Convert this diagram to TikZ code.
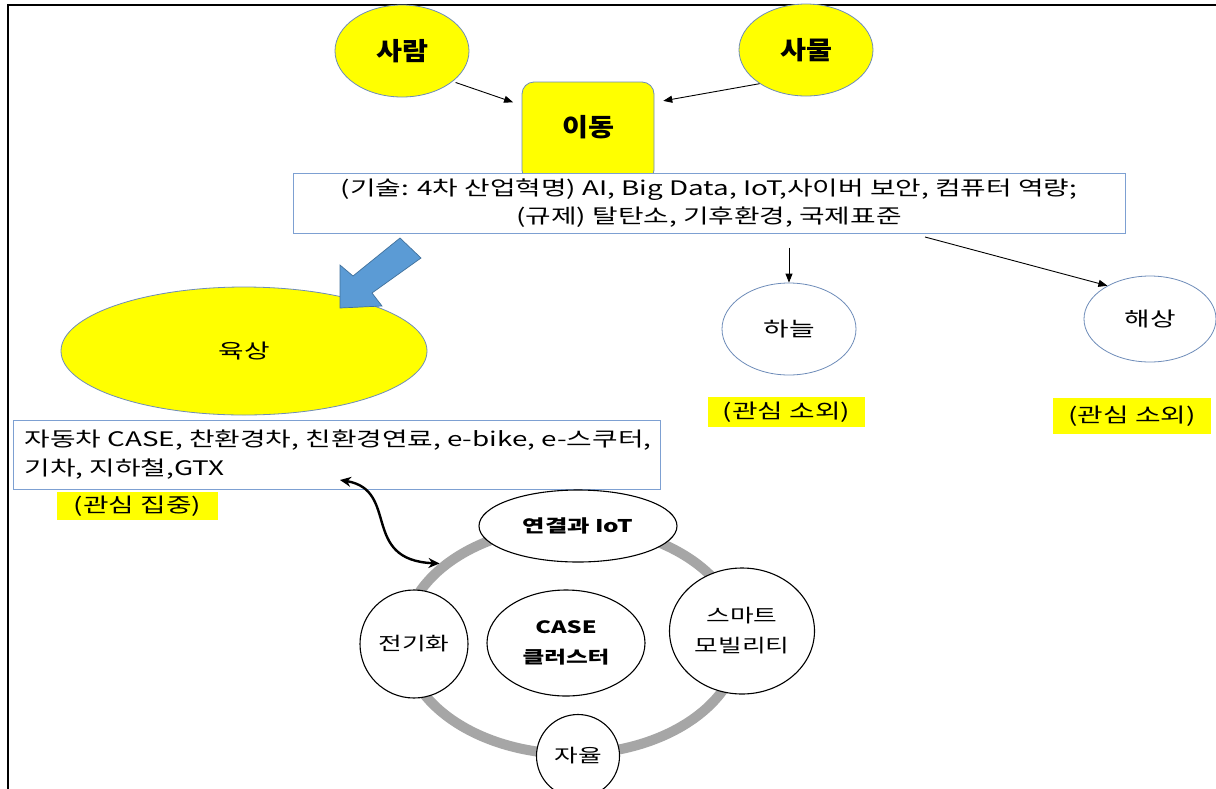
\documentclass[tikz,border=0pt]{standalone}
\usepackage{fontspec}
\setmainfont{Noto Sans CJK KR}[FakeStretch=1.39]
\newfontfamily\narrowfont{Noto Sans CJK KR}[FakeStretch=1.13]
\usetikzlibrary{arrows.meta,shapes.geometric,calc}
\definecolor{yel}{RGB}{255,255,0}
\definecolor{edgeblue}{RGB}{110,140,185}
\definecolor{boxblue}{RGB}{125,160,210}
\definecolor{arrowblue}{RGB}{91,155,213}
\definecolor{arrowedge}{RGB}{65,113,156}
\definecolor{ringgray}{RGB}{166,166,166}
\tikzset{
  yelell/.style={ellipse, draw=edgeblue, fill=yel, line width=0.8pt, inner sep=0pt},
  blueell/.style={ellipse, draw=edgeblue, line width=0.8pt, inner sep=0pt},
  hilite/.style={fill=yel, inner sep=0pt},
  infobox/.style={draw=boxblue, fill=white, line width=1pt, inner sep=0pt},
  ringnode/.style={draw=black, fill=white, line width=1.1pt, inner sep=0pt},
  thinarrow/.style={draw=black, line width=0.9pt, -{Triangle[length=9pt,width=7pt]}},
  dblarrow/.style={draw=black, line width=2.4pt, {Stealth[length=11pt,width=10pt]}-{Stealth[length=11pt,width=10pt]}},
  bigfont/.style={font=\narrowfont\bfseries\fontsize{25}{29}\selectfont},
  midfont/.style={font=\fontsize{20}{28.5}\selectfont},
  smallfont/.style={font=\fontsize{20}{26}\selectfont},
  ringfont/.style={font=\fontsize{18.5}{30}\selectfont},
}
\begin{document}
\begin{tikzpicture}[x=1pt,y=-1pt]
\useasboundingbox (0,0) rectangle (1216,788);
\fill[white] (0,0) rectangle (1216,788);
\draw[line width=2pt] (8,790) -- (8,5) -- (1218,5);

% top ellipses and move box
\node[yelell, bigfont, minimum width=134pt, minimum height=92pt] (person) at (402,51) {사람};
\node[yelell, bigfont, minimum width=134pt, minimum height=92pt] (thing) at (806,50) {사물};
\node[rectangle, rounded corners=12pt, draw=edgeblue, fill=yel, line width=0.8pt,
      minimum width=132pt, minimum height=100pt] (move) at (588,132) {};
\node[bigfont] (movetxt) at (588,127) {이동};

\draw[thinarrow, shorten <=3pt, shorten >=9pt] (person.-31) -- (move.158);
\draw[thinarrow, shorten >=9pt] (thing.216) -- (move.24);

% technology box
\node[infobox, midfont, align=center, minimum width=832pt, minimum height=60pt] (tech) at (709,203)
  {(기술: 4차 산업혁명) AI, Big Data, IoT,사이버 보안, 컴퓨터 역량;\\(규제) 탈탄소, 기후환경, 국제표준};

% land
\node[yelell, midfont, minimum width=366pt, minimum height=128pt] (land) at (244,351) {육상};
\draw[draw=arrowedge, fill=arrowblue, line width=0.7pt, line join=miter]
  (400,238) -- (421,258) -- (372,293) -- (382,306) -- (340,308) -- (340,265) -- (353,276) -- cycle;

% sky and sea
\node[blueell, midfont, minimum width=134pt, minimum height=92pt] (sky) at (789,329) {하늘};
\node[blueell, midfont, minimum width=132pt, minimum height=86pt] (sea) at (1150,319) {해상};
\draw[thinarrow, shorten <=14pt] (sky.north |- tech.south) -- (sky.north);
\coordinate (seastart) at (925,237);
\draw[thinarrow] (seastart) -- (sea.142);

\node[hilite, smallfont, minimum width=157pt, minimum height=30pt] (skynote) at (786.5,412) {(관심 소외)};
\node[hilite, smallfont, minimum width=158pt, minimum height=36pt] (seanote) at (1132,416) {(관심 소외)};

% land box
\node[infobox, minimum width=647pt, minimum height=69pt] (landbox) at (336.5,454.5) {};
\node[midfont, align=left, anchor=west, inner sep=0pt] (landtxt) at ([xshift=12pt]landbox.west)
  {자동차 CASE, 찬환경차, 친환경연료, e-bike, e-스쿠터,\\기차, 지하철,GTX};
\node[hilite, smallfont, minimum width=161pt, minimum height=28pt] (landnote) at (137.5,506) {(관심 집중)};

% CASE ring
\node[ellipse, draw=ringgray, line width=10pt, minimum width=336pt, minimum height=228pt] (ring) at (572,640) {};
\node[ringnode, ellipse, font=\bfseries\fontsize{17.5}{22}\selectfont, minimum width=198pt, minimum height=72pt] (conn) at (578,526) {연결과 IoT};
\node[ringnode, circle, ringfont, minimum size=108pt] (elec) at (414,644) {전기화};
\node[ringnode, ellipse, ringfont, align=center, minimum width=145pt, minimum height=126pt] (smart) at (742,631) {스마트\\모빌리티};
\node[ringnode, circle, ringfont, minimum size=83pt] (auto) at (578,756) {자율};
\node[ringnode, ellipse, font=\bfseries\fontsize{17}{30}\selectfont, align=center, minimum width=158pt, minimum height=106pt] (case) at (566,643) {CASE\\클러스터};

\coordinate (curvestart) at (340,480);
\draw[dblarrow] (curvestart) .. controls (400,490) and (360,560) .. (ring.150);
\end{tikzpicture}
\end{document}
